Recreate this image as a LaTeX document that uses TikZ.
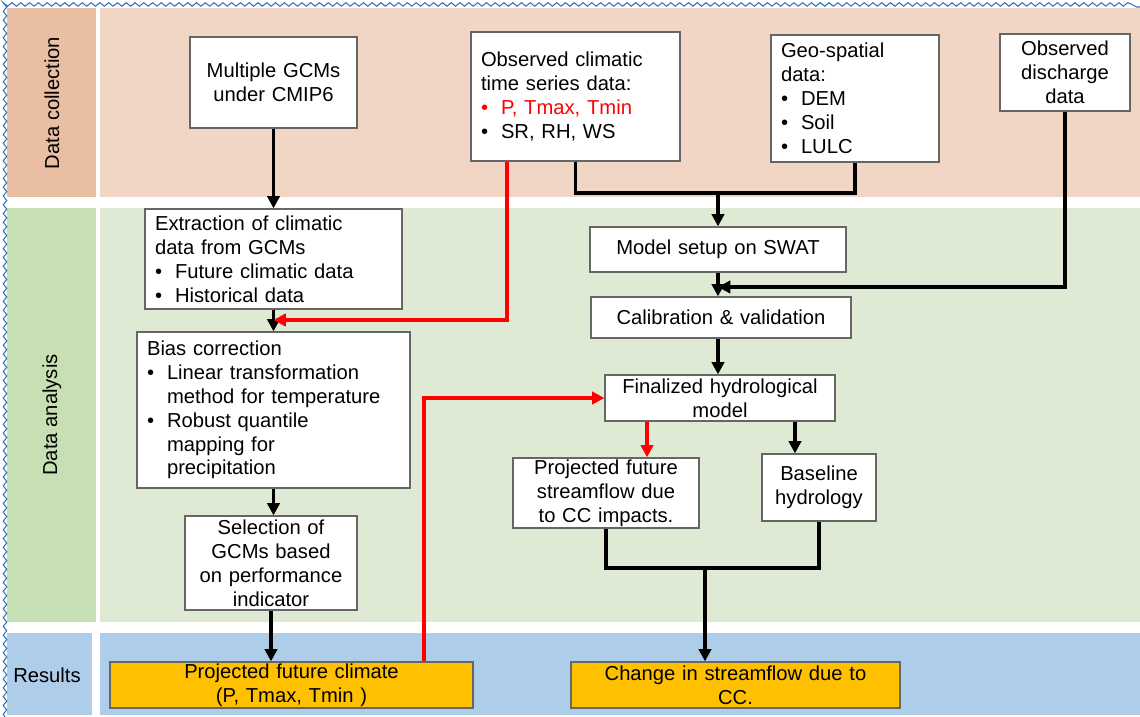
\documentclass[tikz,border=0pt]{standalone}
\usepackage{fontspec}
\setmainfont{Liberation Sans}
\usetikzlibrary{positioning,arrows.meta,decorations.pathmorphing}
\definecolor{peachlab}{HTML}{E9BEA2}
\definecolor{peachbg}{HTML}{F2D6C5}
\definecolor{greenlab}{HTML}{C6E0B4}
\definecolor{greenbg}{HTML}{DEEAD3}
\definecolor{bluebg}{HTML}{AECDE8}
\definecolor{resorange}{HTML}{FFC000}
\definecolor{wavyblue}{HTML}{2E75B6}
\newcommand{\bul}{\makebox[0.4cm][l]{\textbullet}}
\newcommand{\ind}{\hspace*{0.4cm}}

\begin{document}
\begin{tikzpicture}[x=0.02cm,y=-0.02cm,
font=\fontsize{11.5}{13.6}\selectfont,
whitebox/.style={rectangle, draw=black!60, fill=white, line width=0.7pt, inner xsep=0.2cm, inner ysep=1pt},
resultbox/.style={rectangle, draw=black!60, fill=resorange, line width=0.7pt, inner xsep=0.2cm, inner ysep=0pt, align=center},
blackarrow/.style={line width=2pt, -{Triangle[length=7pt,width=7pt]}},
blackline/.style={line width=2pt},
redarrow/.style={line width=2pt, red, -{Triangle[length=7pt,width=7pt]}},
]
\useasboundingbox (0,0) rectangle (1140,717);

%Bands
\fill[peachlab]  (7,8) rectangle (96,197);
\fill[peachbg]   (100,8) rectangle (1140,197);
\fill[greenlab]  (7,208) rectangle (96,622);
\fill[greenbg]   (100,208) rectangle (1140,622);
\fill[bluebg]    (7,633) rectangle (92,715);
\fill[bluebg]    (100,633) rectangle (1140,715);
\draw[wavyblue, line width=0.6pt, decorate, decoration={snake, amplitude=1pt, segment length=5pt}]
  (5,717) -- (5,7) -- (1140,7);

\node[rotate=90] (labcoll) at (52,103) {Data collection};
\node[rotate=90] (labanal) at (52,415) {Data analysis};
\node (labres) at (47,675) {Results};

%Nodes
\node[whitebox, text width=2.94cm, minimum height=1.82cm, align=center] (gcm) at (273.5,82.5)
  {Multiple GCMs\\under CMIP6};
\node[whitebox, text width=3.78cm, minimum height=2.58cm, align=left] (obsclim) at (575.5,96.5)
  {Observed climatic\\time series data:\\{\color{red}\bul P, Tmax, Tmin}\\\bul SR, RH, WS};
\node[whitebox, text width=2.96cm, minimum height=2.54cm, align=left] (geo) at (855,98.5)
  {Geo-spatial\\data:\\\bul DEM\\\bul Soil\\\bul LULC};
\node[whitebox, text width=2.2cm, minimum height=1.54cm, align=center] (obsdis) at (1065,72.5)
  {Observed\\discharge\\data};

\node[whitebox, text width=4.74cm, minimum height=2cm, align=left] (extract) at (273.5,259)
  {Extraction of climatic\\data from GCMs\\\bul Future climatic data\\\bul Historical data};
\node[whitebox, text width=5.06cm, minimum height=3.12cm, align=left] (bias) at (273.5,410)
  {Bias correction\\\bul Linear transformation\\\ind method for temperature\\\bul Robust quantile\\\ind mapping for\\\ind precipitation};
\node[whitebox, text width=3.04cm, minimum height=1.88cm, align=center] (select) at (271,563)
  {Selection of\\GCMs based\\on performance\\indicator};

\node[whitebox, text width=4.72cm, minimum height=0.9cm, align=center] (model) at (718,249.5)
  {Model setup on SWAT};
\node[whitebox, text width=4.8cm, minimum height=0.82cm, align=center] (calib) at (721,317.5)
  {Calibration \& validation};
\node[whitebox, text width=4.2cm, minimum height=0.92cm, align=center] (final) at (720,398)
  {Finalized hydrological\\model};
\node[whitebox, text width=3.32cm, minimum height=1.36cm, align=center] (projsf) at (606,493)
  {Projected future\\streamflow due\\to CC impacts.};
\node[whitebox, text width=1.88cm, minimum height=1.34cm, align=center] (base) at (819,487.5)
  {Baseline\\hydrology};

\node[resultbox, text width=6.86cm, minimum height=0.92cm] (projclim) at (291.5,685)
  {Projected future climate\\(P, Tmax, Tmin )};
\node[resultbox, text width=6.18cm, minimum height=0.92cm] (change) at (735.5,685)
  {Change in streamflow due to\\CC.};

\coordinate (jobs) at (718,193);
\coordinate (jdis) at (718,287);
\coordinate (jred) at (273.5,320);
\coordinate (jflow) at (705,568);

%Lines
\draw[blackarrow] (gcm) -- (extract);
\draw[blackarrow] (extract) -- (bias);
\draw[blackarrow] (bias.south) -- (bias.south |- select.north);
\draw[blackarrow] (select.south) -- (select.south |- projclim.north);

\draw[blackline] (obsclim.south) |- (jobs) -| (geo.south);
\draw[blackarrow] (jobs) -- (jobs |- model.north);
\draw[blackarrow] (obsdis.south) |- (jdis);
\draw[blackarrow] (model.south -| jdis) -- (jdis |- calib.north);
\draw[blackarrow] (calib.south -| jdis) -- (jdis |- final.north);
\draw[redarrow] ([xshift=-1.37cm]obsclim.south) |- (jred);

\draw[redarrow] ([xshift=2.65cm]projclim.north) |- (final.west);
\draw[redarrow] ([xshift=-1.46cm]final.south) -- ([xshift=-1.46cm]final.south |- projsf.north);
\draw[blackarrow] ([xshift=1.5cm]final.south) -- ([xshift=1.5cm]final.south |- base.north);
\draw[blackline] (projsf.south) |- (jflow) -| (base.south);
\draw[blackarrow] (jflow) -- (jflow |- change.north);

\end{tikzpicture}
\end{document}
